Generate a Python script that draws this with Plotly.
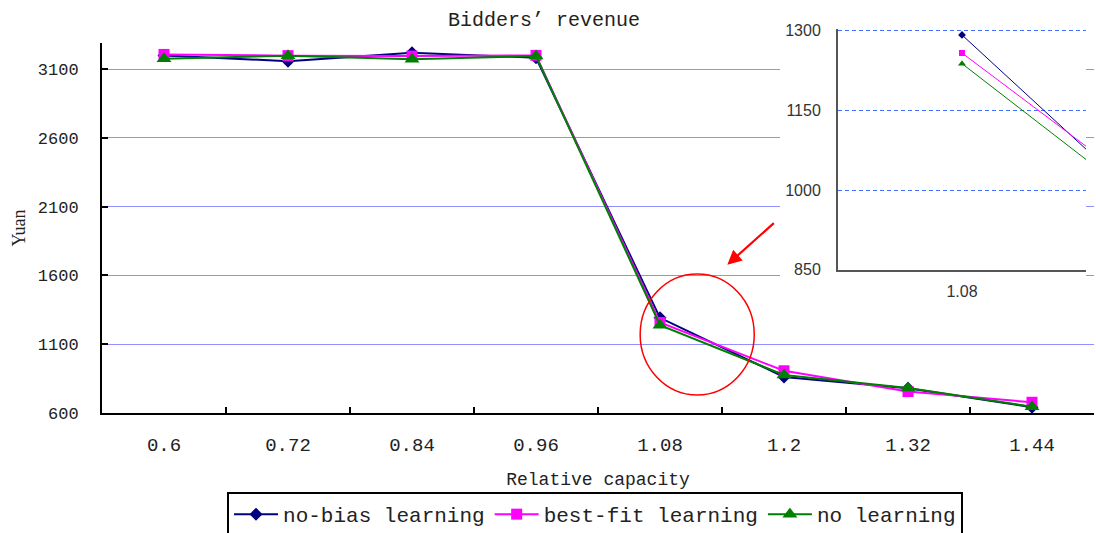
import plotly.graph_objects as go

# ---------------- data ----------------
capacity = ["0.6", "0.72", "0.84", "0.96", "1.08", "1.2", "1.32", "1.44"]
no_bias = [3200, 3158, 3219, 3183, 1292, 862, 780, 642]
best_fit = [3207, 3198, 3195, 3200, 1258, 907, 756, 678]
no_learning = [3176, 3198, 3172, 3195, 1238, 877, 781, 646]

series_names = ["no-bias learning", "best-fit learning", "no learning"]
series_values = [no_bias, best_fit, no_learning]
series_colors = ["#000080", "#ff00ff", "#008000"]
series_symbols = ["diamond", "square", "triangle-up"]
main_marker_sizes = [10, 11, 13]
inset_marker_sizes = [6, 6, 7]

main_yticks = [600, 1100, 1600, 2100, 2600, 3100]
inset_yticks = [850, 1000, 1150, 1300]
inset_start = 4  # inset zooms on capacity 1.08

TXT = "Liberation Mono, DejaVu Sans Mono, monospace"
INSET_FONT = "Liberation Sans, Arial, sans-serif"

fig = go.Figure()

# main traces
for name, vals, col, sym, ms in zip(series_names, series_values, series_colors,
                                     series_symbols, main_marker_sizes):
    fig.add_trace(go.Scatter(
        x=capacity, y=vals, name=name, mode="lines+markers",
        line=dict(color=col, width=2),
        marker=dict(symbol=sym, size=ms, color=col),
        xaxis="x", yaxis="y"))

# white cover subplot (hides main grid lines behind the inset)
fig.add_trace(go.Scatter(x=[None], y=[None], xaxis="x2", yaxis="y2",
                         showlegend=False, hoverinfo="skip"))

# inset traces
for name, vals, col, sym, ms in zip(series_names, series_values, series_colors,
                                     series_symbols, inset_marker_sizes):
    fig.add_trace(go.Scatter(
        x=capacity[inset_start:], y=vals[inset_start:], name=name,
        mode="lines+markers", showlegend=False,
        line=dict(color=col, width=1),
        marker=dict(symbol=sym, size=ms, color=col),
        xaxis="x3", yaxis="y3"))

H = 533
top_m, bot_m = 20, 120
ph = H - top_m - bot_m  # plot-area height in px


def yfrac(px):
    return (H - bot_m - px) / ph


def xfrac(px):
    return (px - 102) / 992


fig.update_layout(
    width=1096, height=533,
    margin=dict(l=102, r=2, t=top_m, b=bot_m, autoexpand=False),
    paper_bgcolor="white", plot_bgcolor="white",
    title=dict(text="Bidders’ revenue", x=0.4964, xref="container", xanchor="center",
               y=1 - 19 / H, yref="container", yanchor="middle",
               font=dict(family=TXT, size=20, color="#222")),
    showlegend=True,
    legend=dict(orientation="h", x=0.497, xanchor="center", y=yfrac(492), yanchor="top",
                bordercolor="black", borderwidth=2, bgcolor="white",
                font=dict(family=TXT, size=21, color="#222"),
                itemwidth=44, tracegroupgap=0),
    xaxis=dict(domain=[0, 1], type="category", range=[-0.5, 7.5], automargin=False,
               tickson="boundaries", ticks="inside", ticklen=6, tickwidth=1.5,
               tickcolor="black", showline=True, linecolor="black", linewidth=2,
               showgrid=False, ticklabelstandoff=13,
               tickfont=dict(family=TXT, size=19, color="#222"),
               title=dict(text="Relative capacity", standoff=17,
                          font=dict(family=TXT, size=18, color="#222")),
               anchor="y"),
    yaxis=dict(domain=[0, yfrac(43)], range=[600, 3290], tickvals=main_yticks,
               automargin=False,
               ticks="inside", ticklen=6, tickwidth=1.5, tickcolor="black",
               showline=True, linecolor="black", linewidth=2,
               showgrid=True, gridcolor="#9090ff", gridwidth=1,
               zeroline=False, ticklabelstandoff=18,
               tickfont=dict(family=TXT, size=17, color="#222"),
               title=dict(text="Yuan", standoff=7,
                          font=dict(family="Liberation Serif, serif", size=18, color="#222")),
               anchor="x"),
    xaxis2=dict(domain=[xfrac(780), xfrac(1086)], range=[0, 1], visible=False,
                anchor="y2", fixedrange=True, automargin=False),
    yaxis2=dict(domain=[yfrac(302), 1.0], range=[0, 1], visible=False,
                anchor="x2", fixedrange=True, automargin=False),
    xaxis3=dict(domain=[xfrac(838), xfrac(1086)], type="category", range=[-0.5, 0.5],
                automargin=False,
                showline=True, linecolor="#555", linewidth=2, ticks="",
                showgrid=False, ticklabelstandoff=6,
                tickfont=dict(family=INSET_FONT, size=16, color="#333"),
                anchor="y3"),
    yaxis3=dict(domain=[yfrac(269.7), yfrac(28.6)], range=[850, 1304], tickvals=inset_yticks,
                automargin=False,
                showline=True, linecolor="#555", linewidth=2, ticks="",
                showgrid=True, gridcolor="#3f6fff", gridwidth=1.2, griddash="4px,3px",
                zeroline=False, ticklabelstandoff=12,
                tickfont=dict(family=INSET_FONT, size=16, color="#333"),
                anchor="x3"),
)

# white cover rectangle inside the cover subplot
fig.add_shape(type="rect", xref="x2", yref="y2", x0=0, x1=1, y0=0, y1=1,
              fillcolor="white", line=dict(width=0), layer="below")

# red circle highlighting the zoomed region
fig.add_shape(type="circle", xref="x", yref="y", x0=3.84, x1=4.76, y0=731, y1=1610,
              line=dict(color="red", width=1.5), layer="above")

# red arrow pointing to the circle
fig.add_annotation(x=4.543, y=1678, xref="x", yref="y", ax=48, ay=-43,
                   axref="pixel", ayref="pixel", text="", showarrow=True,
                   arrowhead=2, arrowsize=1.3, arrowwidth=2.2, arrowcolor="red")

fig.write_html("out.html",
               config={"displayModeBar": False},
               post_script="document.body.style.margin='0';"
                           "document.body.style.overflow='hidden';")
